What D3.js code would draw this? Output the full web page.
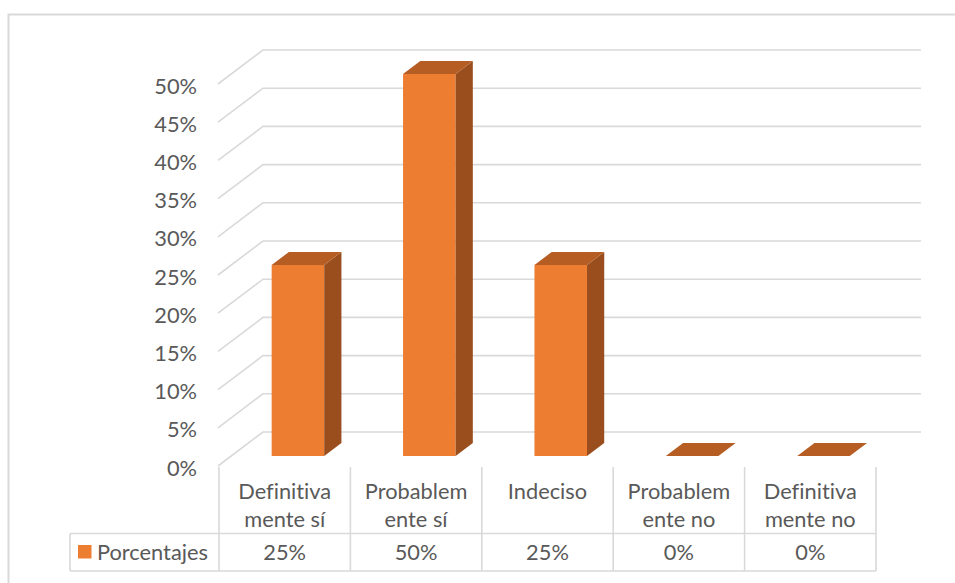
<!DOCTYPE html>
<html>
<head>
<meta charset="utf-8">
<script src="https://cdn.jsdelivr.net/npm/d3@7"></script>
<style>
  html, body { margin: 0; padding: 0; background: #fff; }
  svg { display: block; }
  text { font-family: Lato, "Open Sans", sans-serif; fill: #595959; font-variant-ligatures: none; font-feature-settings: "liga" 0, "clig" 0; }
</style>
</head>
<body>
<svg id="chart" width="955" height="583"></svg>
<script>
// ---- data ----
const categoryLines = [
  ["Definitiva", "mente sí"],
  ["Probablem", "ente sí"],
  ["Indeciso"],
  ["Probablem", "ente no"],
  ["Definitiva", "mente no"]
];
const categories = ["Definitivamente sí", "Probablemente sí", "Indeciso", "Probablemente no", "Definitivamente no"];
const values = [0.25, 0.50, 0.25, 0, 0];
const valueLabels = ["25%", "50%", "25%", "0%", "0%"];
const yTicks = [0, 0.05, 0.10, 0.15, 0.20, 0.25, 0.30, 0.35, 0.40, 0.45, 0.50];
const seriesName = "Porcentajes";

// ---- layout ----
const svg = d3.select("#chart");
const fontSize = 21.8;
const colFront = "#ED7D31", colTop = "#B65D23", colSide = "#9A4E1D";
const gridCol = "#D9D9D9";

const axisX = 218;
const wallDx = 45, wallDy = -34;
const gridRight = 921;

const y = d3.scaleLinear().domain([0, 0.5]).range([466, 84]);
const x = d3.scaleBand().domain(categories).range([219, 876]).paddingInner(0).paddingOuter(0);
const barW = x.bandwidth() * 0.4;
const fFront = 10 / 34, fBack = 23 / 34;

// outer chart border
svg.append("path")
  .attr("d", `M8.5,600 L8.5,14.5 L970,14.5`)
  .attr("fill", "none").attr("stroke", gridCol).attr("stroke-width", 2);

// gridlines (left wall diagonal + back wall horizontal)
const grid = svg.append("g");
yTicks.forEach(t => {
  const y0 = y(t);
  grid.append("path")
    .attr("d", `M${axisX},${y0} L${axisX + wallDx},${y0 + wallDy} L${gridRight},${y0 + wallDy}`)
    .attr("fill", "none").attr("stroke", gridCol).attr("stroke-width", 1.6);
});

// y labels
svg.append("g").selectAll("text").data(yTicks).join("text")
  .attr("x", 197).attr("y", d => y(d) + 1)
  .attr("text-anchor", "end").attr("dominant-baseline", "central")
  .style("font-size", fontSize + "px")
  .text(d => d3.format(".0%")(d));

// bars
const bars = svg.append("g");
categories.forEach((c, i) => {
  const v = values[i];
  const cx = x(c) + x.bandwidth() / 2;
  const fx = cx + wallDx * fFront - barW / 2;   // front left x
  const fyb = y(0) + wallDy * fFront;            // front bottom y
  const fyt = y(v) + wallDy * fFront;            // front top y
  const ddx = wallDx * (fBack - fFront), ddy = wallDy * (fBack - fFront);
  if (v > 0) {
    bars.append("rect").attr("x", fx).attr("y", fyt).attr("width", barW).attr("height", fyb - fyt).attr("fill", colFront);
    bars.append("path")
      .attr("d", `M${fx + barW},${fyt} L${fx + barW + ddx},${fyt + ddy} L${fx + barW + ddx},${fyb + ddy} L${fx + barW},${fyb} Z`)
      .attr("fill", colSide);
  }
  bars.append("path")
    .attr("d", `M${fx},${fyt} L${fx + ddx},${fyt + ddy} L${fx + barW + ddx},${fyt + ddy} L${fx + barW},${fyt} Z`)
    .attr("fill", colTop);
});

// data table
const tTop = 467, tMid = 533.5, tBot = 571, legLeft = 70;
const table = svg.append("g").attr("stroke", gridCol).attr("stroke-width", 1.6).attr("fill", "none");
const bounds = categories.map(c => x(c)).concat([x.range()[1]]);
bounds.forEach(b => table.append("line").attr("x1", b).attr("x2", b).attr("y1", tTop).attr("y2", tBot));
table.append("line").attr("x1", legLeft).attr("x2", 876).attr("y1", tMid).attr("y2", tMid);
table.append("line").attr("x1", legLeft).attr("x2", 876).attr("y1", tBot).attr("y2", tBot);
table.append("line").attr("x1", legLeft).attr("x2", legLeft).attr("y1", tMid).attr("y2", tBot);

// category labels
categories.forEach((c, i) => {
  const cx = x(c) + x.bandwidth() / 2;
  categoryLines[i].forEach((ln, j) => {
    svg.append("text").attr("x", cx).attr("y", 499 + j * 28)
      .attr("text-anchor", "middle").style("font-size", fontSize + "px").text(ln);
  });
  svg.append("text").attr("x", cx).attr("y", 560)
    .attr("text-anchor", "middle").style("font-size", fontSize + "px").text(valueLabels[i]);
});

// legend cell
svg.append("rect").attr("x", 78).attr("y", 545).attr("width", 13.5).attr("height", 13.5).attr("fill", colFront);
svg.append("text").attr("x", 97).attr("y", 560).style("font-size", fontSize + "px").text(seriesName);
</script>
</body>
</html>
